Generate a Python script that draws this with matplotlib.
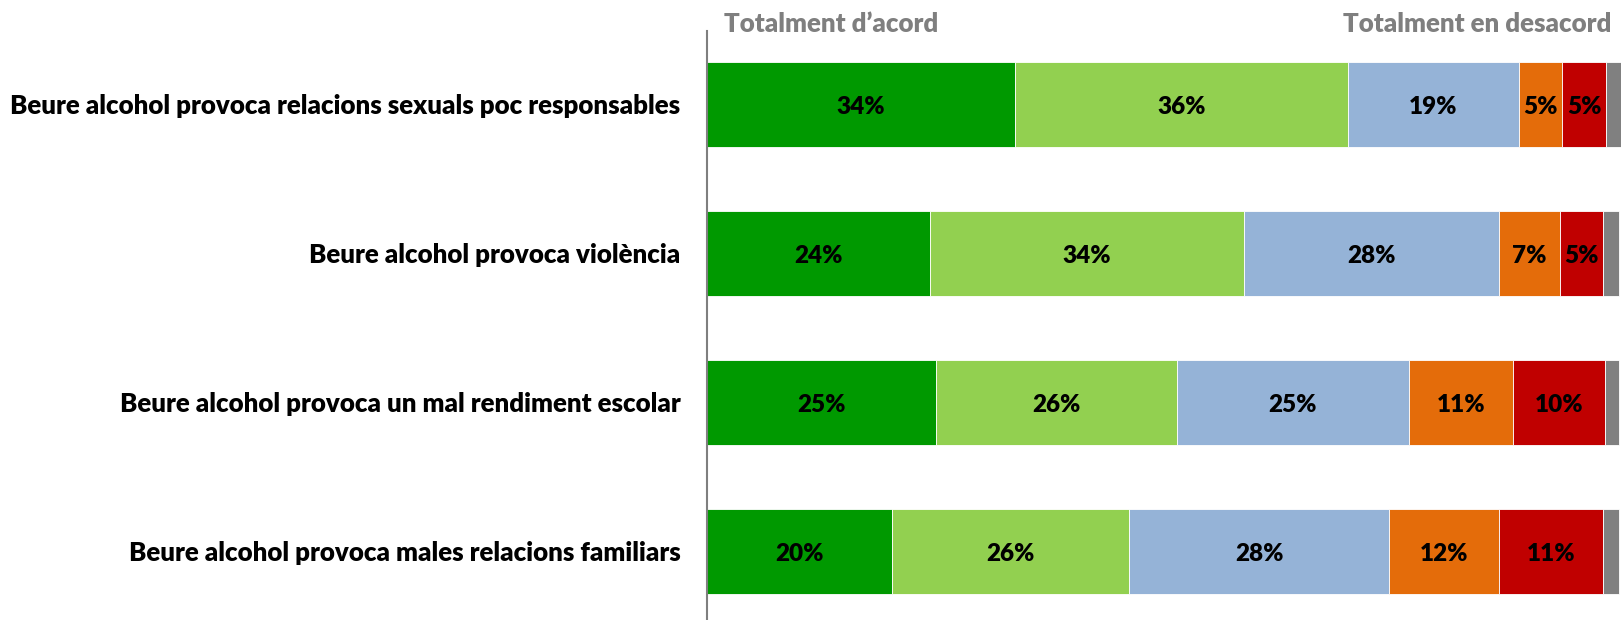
"""
Stacked bar: opinions about alcohol consumption (Totalment d'acord -> Totalment en desacord)
"""

import matplotlib
matplotlib.use("Agg")
import matplotlib.pyplot as plt
import numpy as np

plt.rcParams['font.family'] = ['Lato', 'DejaVu Sans']

categories = [
    "Beure alcohol provoca relacions sexuals poc responsables",
    "Beure alcohol provoca violència",
    "Beure alcohol provoca un mal rendiment escolar",
    "Beure alcohol provoca males relacions familiars",
]

# percentages per answer, from "Totalment d'acord" to "Totalment en desacord", last = NS/NC
totalment_acord = [33.7, 24.4, 25.0, 20.2]
bastant_acord = [36.4, 34.4, 26.4, 26.0]
poc_acord = [18.7, 27.9, 25.4, 28.4]
bastant_desacord = [4.7, 6.6, 11.4, 12.1]
totalment_desacord = [4.9, 4.7, 10.0, 11.3]
ns_nc = [1.6, 1.8, 1.6, 1.8]

series = [totalment_acord, bastant_acord, poc_acord,
          bastant_desacord, totalment_desacord, ns_nc]
colors = ["#009900", "#92D050", "#95B3D7", "#E46C0A", "#C00000", "#808080"]


fig = plt.figure(figsize=(16.21, 6.2), dpi=100)
ax = fig.add_axes([707/1621, 0.0, 1 - 707/1621, 1 - 31/620])

y = np.arange(len(categories))
left = np.zeros(len(categories))
for i, (vals, col) in enumerate(zip(series, colors)):
    vals = np.array(vals)
    ax.barh(y, vals, left=left, height=0.57, color=col,
            edgecolor="white", linewidth=0.6)
    if i < 5:
        for yy, l, v in zip(y, left, vals):
            ax.text(l + v/2, yy + 0.02, f"{v:.0f}%", ha="center", va="center",
                    fontsize=17.5, fontweight="heavy", color="black")
    left += vals

ax.set_xlim(0, 100)
ax.set_ylim(3.46, -0.49)
ax.set_yticks(y)
ax.set_yticklabels(categories, fontsize=18.6, fontweight="heavy")
ax.tick_params(axis="y", length=0, pad=19)
ax.set_xticks([])
for s in ["top", "right", "bottom"]:
    ax.spines[s].set_visible(False)
ax.spines["left"].set_color("#7f7f7f")
ax.spines["left"].set_linewidth(1.5)

fig.text(724/1621, 1 - 24/620, "Totalment d\u2019acord", ha="left", va="center",
         fontsize=18.6, fontweight="heavy", color="#7f7f7f")
fig.text(1611/1621, 1 - 24/620, "Totalment en desacord", ha="right", va="center",
         fontsize=18.6, fontweight="heavy", color="#7f7f7f")

plt.savefig("out.png", dpi=100)
